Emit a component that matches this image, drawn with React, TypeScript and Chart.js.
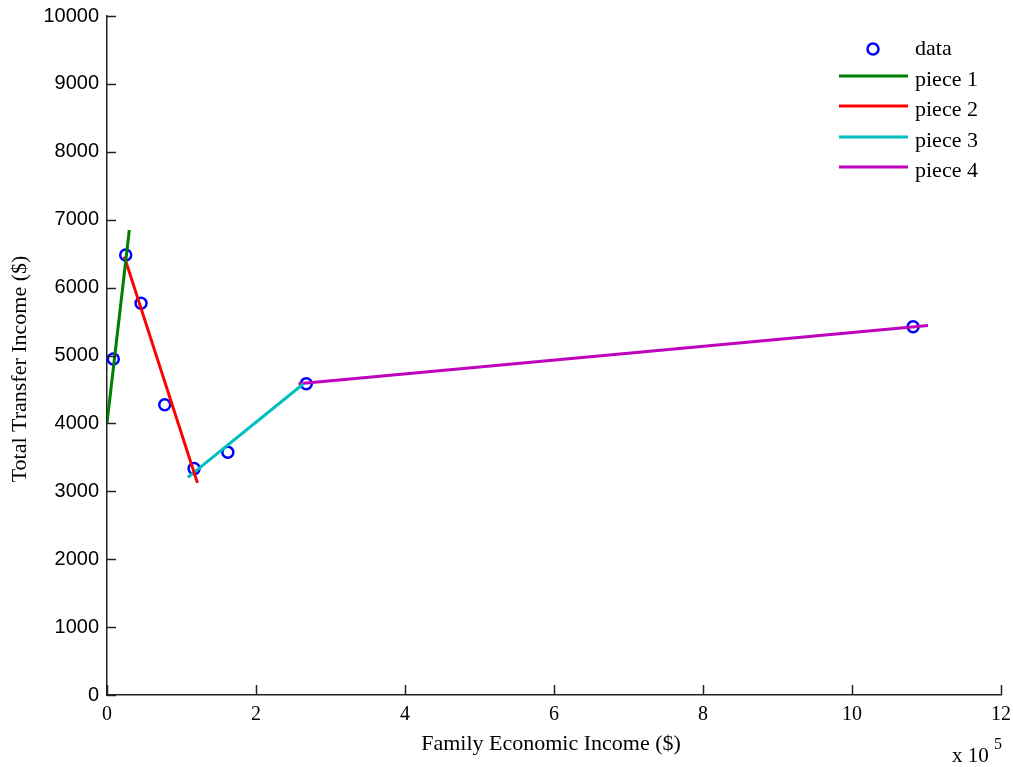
import React, { useEffect, useRef } from "react";
import { Chart, registerables } from "chart.js";

Chart.register(...registerables);

// Data (x in dollars, y in dollars)
const dataX = [8470, 25100, 45700, 77500, 116900, 162200, 267500, 1082000];
const dataY = [4947, 6481, 5771, 4275, 3334, 3574, 4584, 5422];

const piece1X = [0, 29970];
const piece1Y = [4006, 6848];
const piece2X = [23250, 121400];
const piece2Y = [6456, 3124];
const piece3X = [108500, 263800];
const piece3Y = [3206, 4584];
const piece4X = [257100, 1102000];
const piece4Y = [4584, 5441];

const legendLabels = ["data", "piece 1", "piece 2", "piece 3", "piece 4"];
const xTitle = "Family Economic Income ($)";
const yTitle = "Total Transfer Income ($)";

const toXY = (xs: number[], ys: number[]) => xs.map((x, i) => ({ x, y: ys[i] }));

const SERIF = "'Liberation Serif', serif";
const SANS = "'Liberation Sans', sans-serif";

const overlayPlugin = {
  id: "overlay",
  afterDraw(chart: any) {
    const ctx = chart.ctx as CanvasRenderingContext2D;
    const area = chart.chartArea;
    const xs = chart.scales.x;
    const ys = chart.scales.y;
    ctx.save();
    // inward tick marks
    ctx.strokeStyle = "#222";
    ctx.lineWidth = 1.5;
    xs.ticks.forEach((t: any) => {
      const px = Math.round(xs.getPixelForValue(t.value)) + 0.5;
      ctx.beginPath();
      ctx.moveTo(px, area.bottom);
      ctx.lineTo(px, area.bottom - 10);
      ctx.stroke();
    });
    ys.ticks.forEach((t: any) => {
      const py = Math.round(ys.getPixelForValue(t.value)) + 0.5;
      ctx.beginPath();
      ctx.moveTo(area.left, py);
      ctx.lineTo(area.left + 9, py);
      ctx.stroke();
    });

    // axis titles
    ctx.fillStyle = "#000";
    ctx.font = `22px ${SERIF}`;
    ctx.textAlign = "center";
    ctx.textBaseline = "middle";
    ctx.fillText(xTitle, 551, 744);
    ctx.save();
    ctx.translate(20, 369);
    ctx.rotate(-Math.PI / 2);
    ctx.fillText(yTitle, 0, 0);
    ctx.restore();

    // exponent label
    ctx.textAlign = "left";
    ctx.textBaseline = "alphabetic";
    ctx.font = `21px ${SERIF}`;
    ctx.fillText("x 10", 952, 762);
    ctx.font = `16px ${SERIF}`;
    ctx.fillText("5", 994, 749);

    // legend
    const ds = chart.data.datasets;
    const rowY = [49, 76, 106, 137, 167];
    ctx.font = `22px ${SERIF}`;
    ctx.textBaseline = "middle";
    ds.forEach((d: any, i: number) => {
      const y = rowY[i];
      if (i === 0) {
        ctx.beginPath();
        ctx.strokeStyle = d.borderColor;
        ctx.lineWidth = 2.5;
        ctx.arc(873, y, 5.5, 0, Math.PI * 2);
        ctx.stroke();
      } else {
        ctx.beginPath();
        ctx.strokeStyle = d.borderColor;
        ctx.lineWidth = 3;
        ctx.moveTo(839, y);
        ctx.lineTo(908, y);
        ctx.stroke();
      }
      ctx.fillStyle = "#000";
      ctx.fillText(legendLabels[i], 915, y + (i === 0 ? 0 : 4));
    });
    ctx.restore();
  },
};

export default function App() {
  const ref = useRef<HTMLCanvasElement | null>(null);
  useEffect(() => {
    if (!ref.current) return;
    const lineDs = (label: string, xs: number[], ys: number[], color: string) => ({
      type: "line" as const,
      label,
      data: toXY(xs, ys),
      borderColor: color,
      backgroundColor: color,
      borderWidth: 3,
      pointRadius: 0,
      showLine: true,
      fill: false,
      order: 0,
    });
    const chart = new Chart(ref.current, {
      type: "scatter",
      data: {
        datasets: [
          {
            label: legendLabels[0],
            data: toXY(dataX, dataY),
            borderColor: "#0000FF",
            backgroundColor: "rgba(0,0,0,0)",
            borderWidth: 2.5,
            pointRadius: 5.5,
            pointStyle: "circle",
            showLine: false,
            order: 1,
          } as any,
          lineDs(legendLabels[1], piece1X, piece1Y, "#007F00"),
          lineDs(legendLabels[2], piece2X, piece2Y, "#FF0000"),
          lineDs(legendLabels[3], piece3X, piece3Y, "#00BFBF"),
          lineDs(legendLabels[4], piece4X, piece4Y, "#BF00BF"),
        ],
      },
      options: {
        animation: false,
        responsive: false,
        maintainAspectRatio: false,
        layout: { padding: { left: 0, top: 16, right: 12, bottom: 0 } },
        plugins: {
          legend: { display: false },
          tooltip: { enabled: false },
        },
        scales: {
          x: {
            type: "linear",
            min: 0,
            max: 1200000,
            grid: { display: false, drawTicks: false, tickLength: 0 },
            border: { display: true, color: "#222", width: 1.5 },
            ticks: {
              stepSize: 200000,
              padding: 8,
              color: "#000",
              font: { family: SERIF, size: 20 },
              callback: (v: any) => String(Number(v) / 100000),
              maxRotation: 0,
            },
            afterFit: (s: any) => {
              s.height = 72;
              s.paddingLeft = 0;
              s.paddingRight = 0;
            },
          },
          y: {
            type: "linear",
            min: 0,
            max: 10000,
            grid: { display: false, drawTicks: false, tickLength: 0 },
            border: { display: true, color: "#222", width: 1.5 },
            ticks: {
              stepSize: 1000,
              padding: 8,
              color: "#000",
              font: { family: SANS, size: 20 },
              callback: (v: any) => String(v),
            },
            afterFit: (s: any) => {
              s.width = 107;
              s.paddingTop = 0;
              s.paddingBottom = 0;
            },
          },
        },
      },
      plugins: [overlayPlugin],
    });
    return () => chart.destroy();
  }, []);
  return (
    <div style={{ position: "absolute", left: 0, top: 0, width: 1013, height: 767, background: "#fff" }}>
      <canvas ref={ref} width={1013} height={767} style={{ display: "block" }} />
    </div>
  );
}
